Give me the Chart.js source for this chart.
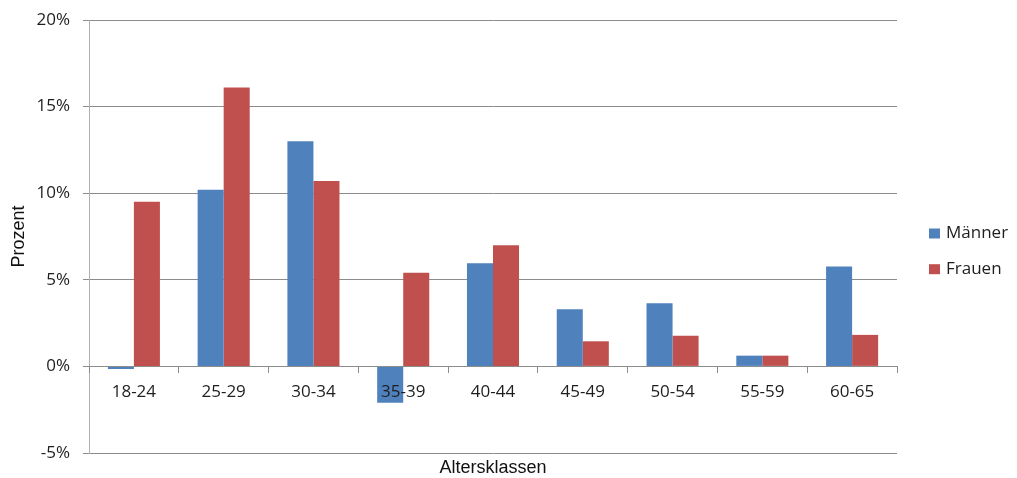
<!DOCTYPE html>
<html>
<head>
<meta charset="utf-8">
<script src="https://cdn.jsdelivr.net/npm/chart.js@4.4.1/dist/chart.umd.min.js"></script>
<style>
  html, body { margin: 0; padding: 0; background: #ffffff; }
  #wrap { width: 1017px; height: 478px; }
</style>
</head>
<body>
<div id="wrap"><canvas id="chart" width="1017" height="478"></canvas></div>
<script>
// Altersklassen und Anteile in Prozent
const categories = ['18-24', '25-29', '30-34', '35-39', '40-44', '45-49', '50-54', '55-59', '60-65'];
const maenner = [-0.15, 10.2, 13.0, -2.1, 5.95, 3.3, 3.65, 0.62, 5.77];
const frauen  = [9.5, 16.1, 10.7, 5.4, 7.0, 1.45, 1.77, 0.62, 1.82];
const yTicks = [-5, 0, 5, 10, 15, 20];

const seriesNames = ['Männer', 'Frauen'];
const seriesColors = ['#4F81BD', '#C0504D'];

const tickFont = { family: '"Open Sans", sans-serif', size: 17 };
const titleFont = { family: '"Liberation Sans", Arial, sans-serif', size: 18 };
const gridColor = '#8c8c8c';
const textColor = '#1e1e1e';

// x-axis title, centred under the plot area
const xTitlePlugin = {
  id: 'xTitle',
  afterDraw(chart) {
    const { ctx, chartArea } = chart;
    ctx.save();
    ctx.font = `${titleFont.size}px ${titleFont.family}`;
    ctx.fillStyle = '#111';
    ctx.textAlign = 'center';
    ctx.textBaseline = 'middle';
    ctx.fillText('Altersklassen', (chartArea.left + chartArea.right) / 2, 468);
    ctx.restore();
  }
};

// legend on the right, built from the datasets
const sideLegend = {
  id: 'sideLegend',
  afterDraw(chart) {
    const { ctx } = chart;
    ctx.save();
    ctx.font = `${tickFont.size}px ${tickFont.family}`;
    ctx.textBaseline = 'middle';
    ctx.textAlign = 'left';
    chart.data.datasets.forEach((ds, i) => {
      const cy = 233.5 + i * 35.7;
      ctx.fillStyle = ds.backgroundColor;
      ctx.fillRect(929, cy - 5, 11, 10);
      ctx.fillStyle = textColor;
      ctx.fillText(ds.label, 946, cy);
    });
    ctx.restore();
  }
};

new Chart(document.getElementById('chart'), {
  type: 'bar',
  data: {
    labels: categories,
    datasets: [
      { label: seriesNames[0], data: maenner, backgroundColor: seriesColors[0], borderWidth: 0 },
      { label: seriesNames[1], data: frauen, backgroundColor: seriesColors[1], borderWidth: 0 }
    ]
  },
  options: {
    responsive: false,
    animation: false,
    devicePixelRatio: 1,
    layout: { padding: { left: 0, right: 120, top: 20, bottom: 25 } },
    datasets: { bar: { categoryPercentage: 0.58, barPercentage: 1.0 } },
    plugins: {
      legend: { display: false },
      tooltip: { enabled: false }
    },
    scales: {
      x: {
        position: { y: 0 },
        offset: true,
        grid: {
          offset: true,
          drawOnChartArea: false,
          drawTicks: true,
          tickLength: 6,
          color: gridColor,
          z: 1
        },
        border: { display: true, color: gridColor, width: 1, z: 1 },
        ticks: { font: tickFont, color: textColor, padding: 10, maxRotation: 0, z: 2 }
      },
      y: {
        min: -5,
        max: 20,
        afterFit(scale) {
          scale.width = 89;
          scale.paddingTop = 0;
          scale.paddingBottom = 0;
        },
        afterBuildTicks(scale) { scale.ticks = yTicks.map(v => ({ value: v })); },
        grid: { color: gridColor, tickLength: 6, drawTicks: true },
        border: { display: true, color: '#b0b0b0', width: 1 },
        ticks: {
          font: tickFont,
          color: textColor,
          padding: 13,
          callback: v => v + '%'
        },
        title: {
          display: true,
          text: 'Prozent',
          font: titleFont,
          color: '#111',
          padding: { top: 8, bottom: 0 }
        }
      }
    }
  },
  plugins: [xTitlePlugin, sideLegend]
});
</script>
</body>
</html>
